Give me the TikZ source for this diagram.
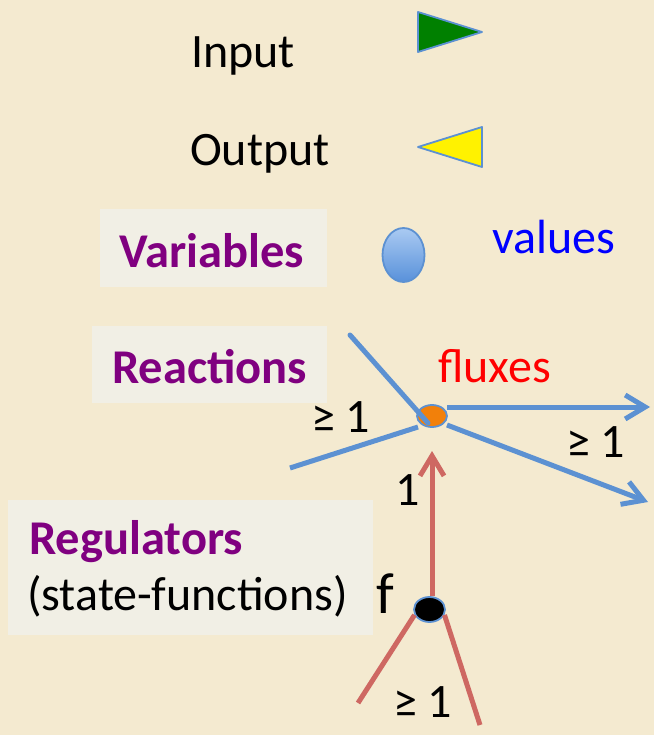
\documentclass[tikz,border=0pt]{standalone}
\usepackage{fontspec}
\setmainfont{Carlito}
\usetikzlibrary{arrows.meta,shapes.geometric}
\definecolor{bg}{RGB}{244,234,208}
\definecolor{boxc}{RGB}{241,239,229}
\definecolor{purp}{RGB}{128,0,128}
\definecolor{lblue}{RGB}{92,145,210}
\definecolor{lred}{RGB}{206,104,98}
\definecolor{tgreen}{RGB}{0,128,0}
\definecolor{torange}{RGB}{242,128,10}
\begin{document}
\begin{tikzpicture}[x=1pt,y=-1pt,
  txt/.style={font=\fontsize{48}{56}\selectfont, inner sep=0pt, anchor=base west},
  btxt/.style={font=\fontsize{48.5}{56}\selectfont\bfseries, text=purp, inner sep=0pt, anchor=base west},
  labelbox/.style={fill=boxc},
  tri/.style={draw=lblue, line width=1.8pt, line join=round},
  bline/.style={draw=lblue, line width=5pt},
  rline/.style={draw=lred, line width=5pt},
  barb/.style={-{Straight Barb[length=20pt,width=24pt,line width=5pt]}},
  dot/.style={ellipse, draw=lblue, line width=1.8pt, inner sep=0pt}
]
\fill[bg] (0,0) rectangle (654,735);
\useasboundingbox (0,0) rectangle (654,735);

% legend
\node[txt] (input) at (191,68) {Input};
\node[txt] (output) at (190,166) {Output};
\filldraw[tri, fill=tgreen] (418,12) -- (418,52) -- (482,32) -- cycle;
\filldraw[tri, fill=yellow] (482,127) -- (482,167) -- (418,147) -- cycle;

% boxes
\fill[labelbox] (100,209) rectangle (327,287);
\fill[labelbox] (92,326) rectangle (327,403);
\fill[labelbox] (8,500) rectangle (373,635);

\node[btxt] (variables) at (119,267) {Variables};
\node[btxt] (reactions) at (112,383) {Reactions};
\node[btxt] (regulators) at (29,554) {Regulators};
\node[txt] (statefn) at (27,610) {(state-functions)};

\node[dot, minimum width=42pt, minimum height=54pt, top color={rgb,255:red,170;green,202;blue,242}, bottom color={rgb,255:red,88;green,145;blue,218}] (var) at (403.5,255) {};
\node[txt, text=blue] (values) at (492,253) {values};

% reaction
\coordinate (a1) at (350,335);
\coordinate (a1e) at (428,423);
\coordinate (a2) at (290,468);
\coordinate (a2e) at (418,427);
\coordinate (o1s) at (447,407);
\coordinate (o1) at (650,407);
\coordinate (o2s) at (447,425);
\coordinate (o2) at (648,502);
\node[dot, fill=torange, minimum width=30pt, minimum height=22pt] (rxn) at (432,416) {};
\draw[bline, line cap=round] (a1) -- (a1e);
\draw[bline] (a2) -- (a2e);
\draw[bline, barb] (o1s) -- (o1);
\draw[bline, barb] (o2s) -- (o2);

\node[txt, text=red] (fluxes) at (438,382) {fluxes};
\node[txt] (gl) at (311,432) {≥ 1};
\node[txt] (gr) at (566,457) {≥ 1};
\node[txt] (one) at (395,505) {1};

% regulator
\node[dot, fill=black, minimum width=31pt, minimum height=25pt] (reg) at (429.5,609.5) {};
\coordinate (r1) at (358,703);
\coordinate (r2) at (480,725);
\draw[rline, barb] (reg.north) ++(2.5,0) coordinate (rs) -- (432,451) coordinate (rt);
\draw[rline] (reg.200) -- (r1);
\draw[rline] (reg.340) -- (r2);
\node[txt, font=\fontsize{58}{64}\selectfont] (f) at (376,613) {f};
\node[txt] (gb) at (393,717) {≥ 1};
\end{tikzpicture}
\end{document}
